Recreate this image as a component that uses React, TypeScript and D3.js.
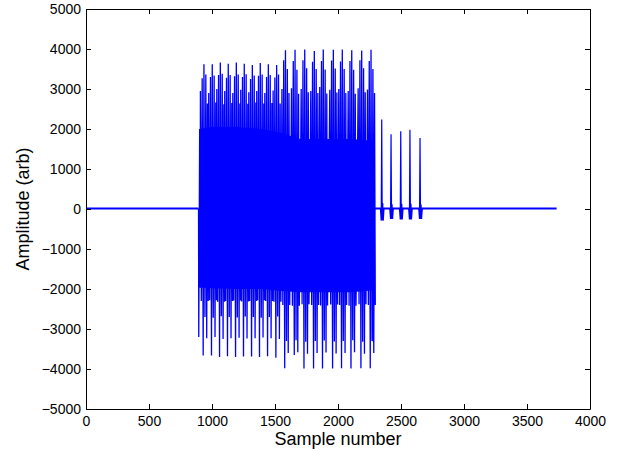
import { useEffect, useRef } from "react";
import * as d3 from "d3";

const xTicks = [0, 500, 1000, 1500, 2000, 2500, 3000, 3500, 4000];
const yTicks = [-5000, -4000, -3000, -2000, -1000, 0, 1000, 2000, 3000, 4000, 5000];

// quiet stretches of the trace (sample ranges)
const quietStart = [0, 2294];
const quietEnd = [893, 3735];
const quietLevel = 10;

// onset of the burst
const onsetSamples = [893, 895, 902, 906];
const onsetValues = [10, -3200, 2000, -1960];

// burst cycles: sample of each main spike and the peaks around it
const spikeSamples = [936, 1002, 1066, 1129, 1193, 1256, 1320, 1383, 1447, 1513, 1583, 1659, 1736, 1812, 1883, 1963, 2034, 2109, 2188, 2262];
const preHigh = [2950, 2900, 3000, 2950, 2900, 2980, 2920, 2950, 2900, 2960, 3000, 3020, 3000, 2950, 3050, 2980, 3000, 2950, 3020, 2990];
const troughLow = [-2300, -2280, -2320, -2300, -2290, -2310, -2300, -2280, -2300, -2320, -2400, -2420, -2380, -2400, -2410, -2390, -2400, -2420, -2380, -2400];
const shoulderHigh = [3270, 3300, 3350, 3280, 3320, 3300, 3250, 3330, 3300, 3290, 3720, 3700, 3720, 3680, 3700, 3710, 3690, 3700, 3720, 3700];
const peakLow = [-3660, -3660, -3700, -3680, -3700, -3690, -3690, -3700, -3680, -3720, -3980, -3650, -3990, -3990, -3990, -3990, -3980, -3990, -3980, -3980];
const peakHigh = [3620, 3620, 3660, 3630, 3660, 3630, 3600, 3650, 3620, 3600, 3970, 3980, 3990, 3950, 3990, 3980, 3990, 3970, 3960, 3980];
const lowA = [-2700, -2720, -2680, -2700, -2710, -2690, -2700, -2720, -2700, -2690, -3300, -3280, -3320, -3300, -3290, -3310, -3300, -3280, -3320, -3300];
const tailHigh = [3360, 3340, 3380, 3350, 3360, 3370, 3340, 3360, 3350, 3360, 3500, 3480, 3520, 3500, 3490, 3510, 3500, 3480, 3520, 3500];
const lowB = [-3230, -3200, -3250, -3230, -3220, -3240, -3230, -3210, -3230, -3250, -3600, -3580, -3620, -3600, -3590, -3610, -3600, -3580, -3620, -3600];
const postHigh = [2640, 2660, 2620, 2650, 2640, 2630, 2660, 2640, 2650, 2640, 2900, 2880, 2920, 2900, 2890, 2910, 2900, 2880, 2920, 2900];

// dense core of the burst
const coreSamples = [900, 1000, 1200, 1400, 1550, 1700, 1900, 2100, 2290];
const coreHigh = [2000, 2050, 2050, 2000, 1900, 1750, 1750, 1750, 1700];
const coreLow = [-1960, -1980, -2000, -2000, -2050, -2080, -2080, -2080, -2030];

// end of the burst
const endSamples = [2276, 2281, 2285, 2290, 2294];
const endValues = [1500, -3320, 1200, -2070, 10];

// small spikes after the burst
const tailSamples = [2347, 2421, 2498, 2571, 2651];
const tailPeaks = [2235, 1867, 1942, 1983, 1775];
const tailDips = [-290, -250, -260, -260, -250];
const tailRipple = [150, 120, 130, 130, 110];

const FONT = "'Liberation Sans', Arial, Helvetica, sans-serif";
const BLUE = "#0000ff";

export default function App() {
  const svgRef = useRef<SVGSVGElement>(null);

  useEffect(() => {
    const svg = d3.select(svgRef.current);
    svg.selectAll("*").remove();

    const W = 628, H = 450;
    const margin = { top: 9, right: 38, bottom: 41, left: 86 };
    const width = W - margin.left - margin.right;
    const height = H - margin.top - margin.bottom;

    svg.attr("width", W).attr("height", H).attr("viewBox", `0 0 ${W} ${H}`);
    svg.append("rect").attr("width", W).attr("height", H).attr("fill", "#fff");

    const g = svg.append("g").attr("transform", `translate(${margin.left},${margin.top})`);

    const x = d3.scaleLinear().domain([0, 4000]).range([0, width]);
    const y = d3.scaleLinear().domain([-5000, 5000]).range([height, 0]);

    // core of the burst
    const core = coreSamples.map((s, i) => ({ s, hi: coreHigh[i], lo: coreLow[i] }));
    g.append("path")
      .datum(core)
      .attr("fill", BLUE)
      .attr("d", d3.area<any>().x(d => x(d.s)).y0(d => y(d.lo)).y1(d => y(d.hi)));

    // quiet baseline
    quietStart.forEach((s, i) => {
      g.append("path")
        .datum([[s, quietLevel], [quietEnd[i], quietLevel]] as [number, number][])
        .attr("fill", "none")
        .attr("stroke", BLUE)
        .attr("stroke-width", 2)
        .attr("d", d3.line<[number, number]>().x(d => x(d[0])).y(d => y(d[1])));
    });

    // burst trace
    const pts: [number, number][] = [];
    onsetSamples.forEach((s, i) => pts.push([s, onsetValues[i]]));
    const offsets = [-28, -21, -14, -6, 0, 8, 15, 22, 28, 34];
    spikeSamples.forEach((s, i) => {
      const vals = [preHigh[i], troughLow[i], shoulderHigh[i], peakLow[i], peakHigh[i], lowA[i], tailHigh[i], lowB[i], postHigh[i], troughLow[i]];
      offsets.forEach((o, k) => pts.push([s + o, vals[k]]));
    });
    endSamples.forEach((s, i) => pts.push([s, endValues[i]]));

    const line = d3.line<[number, number]>().x(d => x(d[0])).y(d => y(d[1]));
    g.append("path")
      .datum(pts)
      .attr("fill", "none")
      .attr("stroke", BLUE)
      .attr("stroke-width", 1.3)
      .attr("d", line);

    // tail spikes
    tailSamples.forEach((s, i) => {
      const tp: [number, number][] = [
        [s - 10, quietLevel],
        [s - 4, tailDips[i]],
        [s, tailPeaks[i]],
        [s + 4, tailDips[i]],
        [s + 8, tailRipple[i]],
        [s + 12, tailDips[i]],
        [s + 18, quietLevel],
      ];
      g.append("path")
        .datum(tp)
        .attr("fill", "none")
        .attr("stroke", BLUE)
        .attr("stroke-width", 1.2)
        .attr("d", line);
    });

    // axes: ticks point inwards on all four sides
    const styleAxis = (sel: any) => {
      sel.attr("font-family", FONT).attr("font-size", 14);
      sel.selectAll("path.domain").attr("stroke", "#000").attr("stroke-width", 1);
      sel.selectAll(".tick line").attr("stroke", "#000");
      sel.selectAll(".tick text").attr("fill", "#000");
    };

    g.append("g")
      .attr("transform", `translate(0,${height})`)
      .call(d3.axisBottom(x).tickValues(xTicks).tickSize(-5).tickSizeOuter(0).tickPadding(7).tickFormat(d3.format("d")))
      .call(styleAxis);

    g.append("g")
      .call(d3.axisLeft(y).tickValues(yTicks).tickSize(-5).tickSizeOuter(0).tickPadding(5).tickFormat(d3.format("d")))
      .call(styleAxis);

    g.append("g")
      .call(d3.axisTop(x).tickValues(xTicks).tickSize(-5).tickSizeOuter(0).tickFormat(() => ""))
      .call(styleAxis);

    g.append("g")
      .attr("transform", `translate(${width},0)`)
      .call(d3.axisRight(y).tickValues(yTicks).tickSize(-5).tickSizeOuter(0).tickFormat(() => ""))
      .call(styleAxis);

    // axis titles
    svg.append("text")
      .attr("x", margin.left + width / 2)
      .attr("y", 445)
      .attr("text-anchor", "middle")
      .attr("font-family", FONT)
      .attr("font-size", 18)
      .text("Sample number");

    svg.append("text")
      .attr("transform", `translate(29,${margin.top + height / 2}) rotate(-90)`)
      .attr("text-anchor", "middle")
      .attr("font-family", FONT)
      .attr("font-size", 18)
      .text("Amplitude (arb)");
  }, []);

  return <svg ref={svgRef} style={{ position: "absolute", left: 0, top: 0 }} />;
}
